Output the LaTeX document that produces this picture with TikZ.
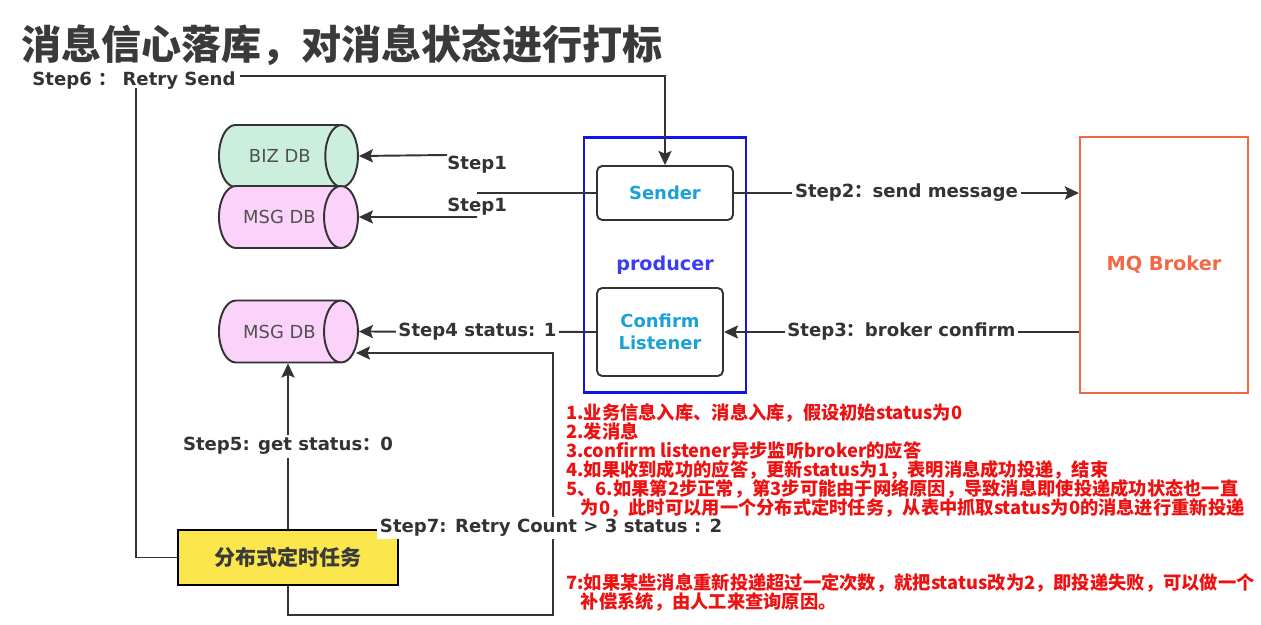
\documentclass[tikz,border=0pt]{standalone}
\usepackage{fontspec}
\setmainfont{DejaVu Sans}
\newfontfamily\cjk{Noto Sans CJK SC}
\usetikzlibrary{arrows.meta,shapes.geometric}
\definecolor{linegray}{HTML}{333333}
\definecolor{titlegray}{HTML}{3A3A3A}
\definecolor{dbmint}{HTML}{CBEEDD}
\definecolor{dbpink}{HTML}{FAD2FA}
\definecolor{dbtext}{HTML}{505050}
\definecolor{prodblue}{HTML}{1414E6}
\definecolor{prodtext}{HTML}{3C3CF0}
\definecolor{sendcyan}{HTML}{1BA1D6}
\definecolor{brokerred}{HTML}{F26744}
\definecolor{taskyellow}{HTML}{FBE64E}
\definecolor{notered}{HTML}{EE1111}
\begin{document}
\begin{tikzpicture}
        [
            x=0.02cm, y=-0.02cm,
            line/.style={line width=1.1pt, draw=linegray},
            arrow/.style={line, -{Stealth[length=8pt,width=7.5pt,inset=1.5pt]}},
            db/.style={cylinder, shape aspect=2.5, draw=linegray, line width=1.1pt, minimum width=1.24cm, minimum height=2.78cm, inner sep=0pt, anchor=west, text=dbtext, font=\fontsize{10.2}{12}\selectfont},
            block/.style={rectangle, rounded corners=3pt, draw=linegray, line width=1.1pt, fill=white, align=center, text=sendcyan, font=\bfseries\fontsize{10.2}{12.5}\selectfont},
            steptext/.style={inner sep=0pt, text=linegray, font=\bfseries\fontsize{10.3}{12}\selectfont},
            onlabel/.style={steptext, fill=white, inner sep=1.5pt},
            note/.style={anchor=north west, inner sep=0pt, align=left, text=notered, font=\cjk\bfseries\fontsize{10.4}{10.9}\selectfont}
        ]
        \useasboundingbox (0,0) rectangle (1261,625);
        % title
        \node[anchor=west, inner sep=0pt, text=titlegray, font=\cjk\bfseries\fontsize{22.8}{26}\selectfont] (title) at (21,45) {消息信心落库，对消息状态进行打标};
        % DBs
        \node[db, fill=dbmint] (biz) at (218,156) {BIZ DB};
        \node[db, fill=dbpink] (msga) at (218,217) {MSG DB};
        \node[db, fill=dbpink] (msgb) at (218,331.5) {MSG DB};
        % producer
        \node[draw=prodblue, line width=1.4pt, minimum width=3.24cm, minimum height=5.1cm, text=prodtext, font=\bfseries\fontsize{10.9}{13}\selectfont] (producer) at (665,265) {producer};
        \node[block, minimum width=2.72cm, minimum height=1.08cm] (sender) at (665,193) {Sender};
        \node[block, minimum width=2.52cm, minimum height=1.76cm] (listener) at (660,332) {Confirm\\Listener};
        % broker
        \node[draw=brokerred, line width=1.2pt, minimum width=3.36cm, minimum height=5.12cm, text=brokerred, font=\bfseries\fontsize{11}{13}\selectfont] (broker) at (1164,265) {MQ Broker};
        % task
        \node[draw=black, line width=1.2pt, fill=taskyellow, minimum width=4.4cm, minimum height=1.1cm, text=titlegray, font=\cjk\bfseries\fontsize{12}{14}\selectfont] (task) at (288,557.5) {分布式定时任务};
        % Step1
        \coordinate (s1a) at (447,155);
        \coordinate (s1b) at (477,217);
        \coordinate (s1c) at (477,193);
        \draw[arrow] (s1a) -- (biz.east);
        \draw[arrow] (s1b) -- (msga.east);
        \draw[line] (sender.west) -- (s1c);
        \node[steptext, anchor=west] (s1alabel) at (447,165) {Step1};
        \node[steptext, anchor=west] (s1blabel) at (447,207) {Step1};
        % Step2, Step3, Step4
        \draw[arrow] (sender.east) -- node[onlabel] (s2label) {Step2{\cjk ：}send message} (sender.east -| broker.west);
        \draw[arrow] (listener.east -| broker.west) -- node[onlabel] (s3label) {Step3{\cjk ：}broker confirm} (listener.east);
        \draw[arrow] (listener.west) -- node[onlabel] (s4label) {Step4 status: 1} (msgb.east);
        % Step5
        \draw[arrow] (task.north) -- node[onlabel] (s5label) {Step5: get status{\cjk ：}0} (task.north |- msgb.south);
        % Step6
        \node[steptext, anchor=west] (s6label) at (32,81) {Step6 {\cjk ：} Retry Send};
        \coordinate (s6foot) at (136,88);
        \coordinate (s6start) at (240,76);
        \draw[line] (task.west) -| (s6foot);
        \draw[arrow] (s6start) -| (sender.north);
        % Step7
        \coordinate (s7corner) at (553,615);
        \coordinate (s7end) at (356,353);
        \draw[arrow] (task.south) |- (s7corner) |- (s7end);
        \node[onlabel, anchor=west] (s7label) at (377,528) {Step7: Retry Count > 3 status : 2};
        % notes
        \node[note] (notea) at (566,403) {1.业务信息入库、消息入库，假设初始status为0\\
            2.发消息\\
            3.confirm listener异步监听broker的应答\\
            4.如果收到成功的应答，更新status为1，表明消息成功投递，结束\\
            5、6.如果第2步正常，第3步可能由于网络原因，导致消息即使投递成功状态也一直\\
            \hspace*{0.8em}为0，此时可以用一个分布式定时任务，从表中抓取status为0的消息进行重新投递};
        \node[note] (noteb) at (566,573) {7:如果某些消息重新投递超过一定次数，就把status改为2，即投递失败，可以做一个\\
            \hspace*{0.8em}补偿系统，由人工来查询原因。};
    \end{tikzpicture}
\end{document}
